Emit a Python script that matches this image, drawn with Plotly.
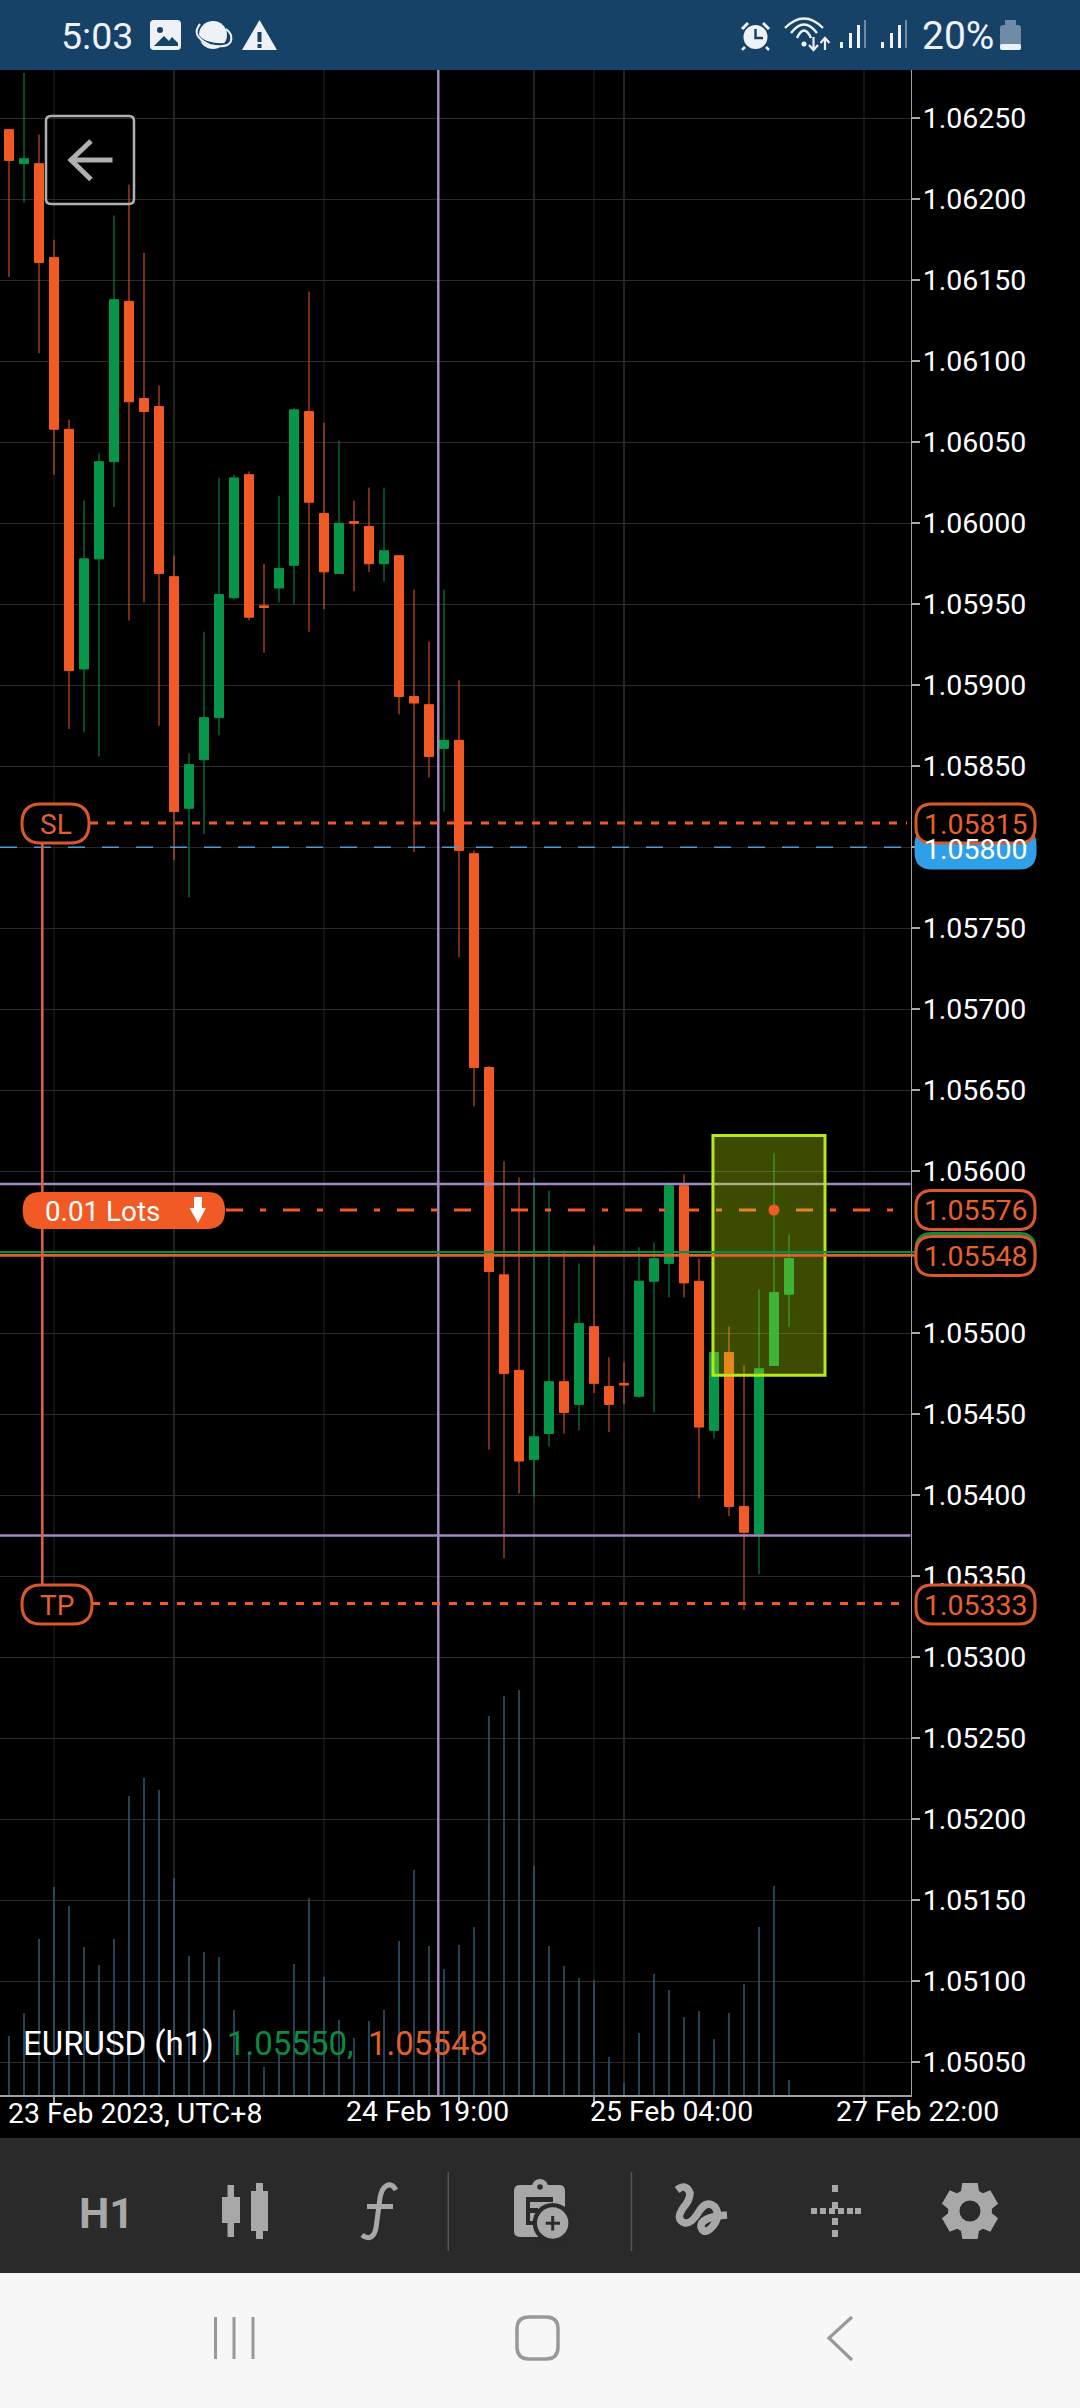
import math
import plotly.graph_objects as go

# ---------- data ----------
candle_index = list(range(53))
open_prices = [1.06243,1.06222,1.06222,1.06164,1.06058,1.05910,1.05978,1.06038,1.06137,1.06077,
               1.06072,1.05967,1.05824,1.05854,1.05880,1.05954,1.06030,1.05949,1.05960,1.05974,
               1.06069,1.06006,1.05969,1.06001,1.05998,1.05975,1.05980,1.05893,1.05888,1.05861,
               1.05866,1.05796,1.05664,1.05536,1.05477,1.05422,1.05438,1.05470,1.05456,1.05504,
               1.05467,1.05469,1.05461,1.05532,1.05543,1.05591,1.05532,1.05440,1.05488,1.05393,
               1.05376,1.05480,1.05524]
high_prices = [1.06243,1.06278,1.06240,1.06175,1.06064,1.06014,1.06043,1.06190,1.06209,1.06167,
               1.06085,1.05980,1.05858,1.05933,1.06028,1.06030,1.06032,1.05975,1.06017,1.06071,
               1.06143,1.06062,1.06051,1.06014,1.06022,1.06022,1.05980,1.05959,1.05927,1.05959,
               1.05903,1.05798,1.05665,1.05606,1.05596,1.05596,1.05588,1.05551,1.05543,1.05554,
               1.05485,1.05482,1.05553,1.05556,1.05593,1.05598,1.05546,1.05488,1.05504,1.05480,
               1.05527,1.05611,1.05561]
low_prices = [1.06152,1.06198,1.06105,1.06030,1.05873,1.05871,1.05856,1.06010,1.05940,1.05951,
              1.05875,1.05792,1.05769,1.05808,1.05869,1.05953,1.05940,1.05920,1.05951,1.05950,
              1.05933,1.05947,1.05969,1.05958,1.05970,1.05964,1.05882,1.05797,1.05843,1.05822,
              1.05732,1.05640,1.05428,1.05361,1.05401,1.05399,1.05430,1.05438,1.05440,1.05463,
              1.05439,1.05456,1.05460,1.05451,1.05522,1.05522,1.05398,1.05435,1.05387,1.05329,
              1.05351,1.05480,1.05504]
close_prices = [1.06224,1.06225,1.06161,1.06058,1.05909,1.05978,1.06038,1.06138,1.06075,1.06069,
                1.05969,1.05822,1.05851,1.05880,1.05956,1.06028,1.05942,1.05948,1.05972,1.06070,
                1.06013,1.05970,1.06000,1.06000,1.05975,1.05983,1.05893,1.05889,1.05856,1.05866,
                1.05798,1.05664,1.05538,1.05475,1.05421,1.05436,1.05470,1.05451,1.05506,1.05469,
                1.05456,1.05468,1.05532,1.05546,1.05591,1.05531,1.05442,1.05488,1.05393,1.05377,
                1.05478,1.05525,1.05546]
tick_volume = [59,82,156,208,189,148,130,156,299,317,305,217,139,143,138,85,42,28,43,131,197,118,75,
               57,74,85,154,225,149,126,150,168,379,399,405,229,149,129,117,115,38,12,62,121,105,78,
               84,56,82,111,168,209,15]

ask_price = 1.05550
bid_price = 1.05548
entry_price = 1.05576
stop_loss = 1.05815
take_profit = 1.05333
level_price = 1.05800
range_high = 1.05592
range_low = 1.05375
box_top, box_bottom = 1.05622, 1.05474
box_left, box_right = 46.93, 54.4
entry_candle = 51
cursor_candle = 28.62
bright_grid = [11, 35, 41]
dim_grid = [3, 21, 39, 57]
x_tick_positions = [3, 30, 39, 57]
time_labels = ["23 Feb 2023, UTC+8", "24 Feb 19:00", "25 Feb 04:00", "27 Feb 22:00"]
symbol_label = "EURUSD (h1)"
lots_label = "0.01 Lots"

# ---------- palette / geometry ----------
W, H = 1080, 2408
ORANGE = "#f15a24"; GREEN = "#05964a"; PURPLE = "#a288c0"; GREY = "#a8a8a8"; NAVY = "#174268"
PILL = "#d9582c"
ICON = "#eef2f6"; TOOLBAR = "#2a2a2a"; NAV = "#f7f7f7"
PLOT_L, PLOT_R, PLOT_T, PLOT_B = 0, 910.5, 70, 2095
XMIN = -0.6
XMAX = XMIN + PLOT_R / 15
YTOP = 1.06250 + (118.3 - PLOT_T) / 161975
YBOT = 1.06250 - (PLOT_B - 118.3) / 161975
FONT = "Roboto"

def px(x): return x / W
def py(y): return 1 - y / H
def pt(x, y): return f"{px(x):.5f},{py(y):.5f}"

shapes, annots = [], []

def path(d, fill=None, line=None, lw=0, layer="above", dash=None):
    s = dict(type="path", path=d, xref="paper", yref="paper", layer=layer,
             line=dict(width=lw, color=line or "rgba(0,0,0,0)"))
    if dash: s["line"]["dash"] = dash
    if fill: s["fillcolor"] = fill
    shapes.append(s)

def poly(pts, close=True):
    d = "M" + " L".join(pt(*p) for p in pts)
    return d + (" Z" if close else "")

def rr(x0, y0, x1, y1, r):
    return (f"M{pt(x0+r,y0)} L{pt(x1-r,y0)} Q{pt(x1,y0)} {pt(x1,y0+r)} L{pt(x1,y1-r)} Q{pt(x1,y1)} {pt(x1-r,y1)} "
            f"L{pt(x0+r,y1)} Q{pt(x0,y1)} {pt(x0,y1-r)} L{pt(x0,y0+r)} Q{pt(x0,y0)} {pt(x0+r,y0)} Z")

def rect(x0, y0, x1, y1, fill, layer="above"):
    shapes.append(dict(type="rect", xref="paper", yref="paper", x0=px(x0), x1=px(x1), y0=py(y0), y1=py(y1),
                       fillcolor=fill, line=dict(width=0), layer=layer))

def circ(cx, cy, r, fill=None, line=None, lw=0):
    s = dict(type="circle", xref="paper", yref="paper", x0=px(cx-r), x1=px(cx+r), y0=py(cy-r), y1=py(cy+r),
             line=dict(width=lw, color=line or "rgba(0,0,0,0)"), layer="above")
    if fill: s["fillcolor"] = fill
    shapes.append(s)

def text(x, y, s, size, color, anchor="left", family=FONT):
    annots.append(dict(x=px(x), y=py(y), xref="paper", yref="paper", text=s, showarrow=False, xanchor=anchor,
                       yanchor="middle", font=dict(family=family, size=size, color=color), align=anchor,
                       borderpad=0, borderwidth=0))

def hline(price, color, lw, x0=PLOT_L, x1=PLOT_R, dash=None):
    ln = dict(color=color, width=lw)
    if dash: ln["dash"] = dash
    shapes.append(dict(type="line", xref="paper", yref="y", x0=px(x0), x1=px(x1), y0=price, y1=price, line=ln, layer="above"))

# ---------- grid verticals ----------
for idx in dim_grid:
    shapes.append(dict(type="line", xref="x", yref="paper", x0=idx, x1=idx, y0=py(PLOT_B), y1=py(PLOT_T),
                       line=dict(color="#242424", width=1), layer="below"))
for idx in bright_grid:
    shapes.append(dict(type="line", xref="x", yref="paper", x0=idx, x1=idx, y0=py(PLOT_B), y1=py(PLOT_T),
                       line=dict(color="#474747", width=1), layer="below"))

# ---------- chart objects ----------
shapes.append(dict(type="line", xref="x", yref="paper", x0=cursor_candle, x1=cursor_candle, y0=py(PLOT_B), y1=py(PLOT_T),
                   line=dict(color=PURPLE, width=2.5), layer="above"))
hline(range_high, PURPLE, 2.5)
hline(range_low, PURPLE, 2.5)
hline(level_price, "#4a9bd8", 1.6, dash="17px,17px")
hline(stop_loss, ORANGE, 3, x0=90, x1=907, dash="8px,9px")
hline(take_profit, ORANGE, 3, x0=92, x1=907, dash="8px,9px")
hline(entry_price, ORANGE, 3, x0=226, x1=907, dash="17px,17px,6px,17px")
shapes.append(dict(type="rect", xref="x", yref="y", x0=box_left, x1=box_right, y0=box_bottom, y1=box_top,
                   fillcolor="rgba(200,247,0,0.30)", line=dict(color="#b8e815", width=3), layer="above"))
shapes.append(dict(type="circle", xref="x", yref="y", xsizemode="pixel", ysizemode="pixel", xanchor=entry_candle,
                   yanchor=entry_price, x0=-5.5, x1=5.5, y0=-5.5, y1=5.5, fillcolor=ORANGE,
                   line=dict(width=0), layer="above"))
hline(ask_price, "#0b8b40", 2.4, x1=918)
hline(bid_price, "#e0602e", 2.6, x1=918)
# stop-to-target connector
rect(41, 843, 43.6, 1586, "#d8603a")

# ---------- pills ----------
def pill(cy, label, stroke=PILL, fill="#000000", txt="#e8602e", x0=916, x1=1035):
    path(rr(x0, cy-19.5, x1, cy+19.5, 16), fill=fill, line=stroke, lw=3)
    if label:
        text((x0+x1)/2, cy+0.5, label, 28.5, txt, "center")

pill(848.5, "1.05800", stroke="#2f9fe8", fill="#2f9fe8", txt="#ffffff")
pill(823.5, "1.05815")
pill(1210, "1.05576")
pill(1253, "", stroke="#0b8b40")
pill(1256, "1.05548")
pill(1604.5, "1.05333")
path(rr(22, 804, 89, 843, 19), fill="#000000", line=PILL, lw=3)
text(55.5, 824, "SL", 28, "#e0602e", "center")
path(rr(22, 1585, 92, 1624, 19), fill="#000000", line=PILL, lw=3)
text(57, 1605, "TP", 28, "#e0602e", "center")
path(rr(22.7, 1192, 225, 1229, 18), fill=ORANGE)
text(45, 1211, lots_label, 27.8, "#ffffff")
path(poly([(194, 1197), (202, 1197), (202, 1208), (206, 1208), (198, 1223), (189.5, 1208), (194, 1208)]), fill="#ffffff")

# symbol read-out
text(23, 2043, symbol_label, 33, "#ffffff")
text(227, 2043, "1.05550,", 33, "#0b8b40")
text(368, 2043, "1.05548", 33, "#e0602e")

# time labels
text(8, 2113, time_labels[0], 28.4, "#ffffff")
text(346, 2111, time_labels[1], 28.4, "#ffffff")
text(590, 2111, time_labels[2], 28.4, "#ffffff")
text(836, 2111, time_labels[3], 28.4, "#ffffff")

# back button
path(rr(46, 116, 134, 204, 5), line="#b0b0b0", lw=2.5)
path(poly([(112.5, 160), (71, 160)], False), line="#b0b0b0", lw=5)
path(poly([(91, 141), (71, 160), (91, 179.5)], False), line="#b0b0b0", lw=5)

# ---------- status bar ----------
rect(0, 0, W, 70, NAVY)
text(61, 36, "5:03", 37.5, ICON)
text(922, 36, "20%", 39, ICON)
path(rr(150, 20, 181, 50, 4), fill=ICON)
path(poly([(154, 46), (164, 36), (169, 41), (172, 37), (178, 43), (178, 46)]), fill=NAVY)
circ(160, 30, 3, fill=NAVY)
circ(213, 35, 14, fill=ICON)
path(f"M{pt(198,27)} Q{pt(193,40)} {pt(213,44)} Q{pt(232,47)} {pt(230,36)}", line=NAVY, lw=3)
path(f"M{pt(200,24)} Q{pt(190,36)} {pt(210,45)} Q{pt(234,50)} {pt(231,35)} Q{pt(229,31)} {pt(226,29)}", line=ICON, lw=2)
path(poly([(259.5, 20), (277, 50), (242, 50)]), fill=ICON)
rect(257.5, 32, 261.5, 42, NAVY); rect(257.5, 44, 261.5, 48, NAVY)
circ(755.5, 37, 12, fill=ICON)
path(poly([(755.5, 29), (755.5, 38), (763, 38)], False), line=NAVY, lw=2.5)
path(poly([(742, 29), (748, 23)], False), line=ICON, lw=3)
path(poly([(769, 29), (763, 23)], False), line=ICON, lw=3)
path(poly([(745, 47), (742, 50)], False), line=ICON, lw=2.5)
path(poly([(766, 47), (769, 50)], False), line=ICON, lw=2.5)
for w_, top_, bot_ in [(19, 19, 28), (13, 26, 33), (7, 33, 38)]:
    path(f"M{pt(804-w_,bot_)} Q{pt(804,top_-10)} {pt(804+w_,bot_)}", line=ICON, lw=2.4)
circ(804, 44, 2.5, fill=ICON)
path(poly([(813.5, 37), (813.5, 50)], False), line=ICON, lw=2.2)
path(poly([(809, 45), (813.5, 50), (818, 45)], False), line=ICON, lw=2.2)
path(poly([(825, 50), (825, 38)], False), line=ICON, lw=2.2)
path(poly([(820.5, 43), (825, 38), (829.5, 43)], False), line=ICON, lw=2.2)
for base in (840, 881):
    rect(base, 42, base+3, 48, ICON); rect(base+9, 33, base+12, 48, ICON)
    rect(base+17, 25, base+20, 48, ICON); rect(base+24, 20, base+26, 48, "#6f8ba5")
path(rr(1000, 25, 1021, 50, 3), fill="#6f8ba5")
rect(1005, 20, 1016, 26, "#6f8ba5")
path(rr(1000, 44, 1021, 50, 2), fill=ICON)

# ---------- toolbar ----------
rect(0, 2138, W, 2273, TOOLBAR)
rect(0, 2273, W, H, NAV)
rect(447.5, 2172, 449, 2251, "#555555"); rect(630.7, 2172, 632.2, 2251, "#555555")
text(106.5, 2213, "<b>H1</b>", 43, GREY, "center")
rect(222, 2197, 240, 2223, GREY); rect(227.5, 2185, 234, 2237, GREY)
rect(251, 2191, 268, 2231, GREY); rect(256, 2183, 263, 2239, GREY)
path(f"M{pt(396,2190)} C{pt(390,2180)} {pt(382,2186)} {pt(380,2198)} L{pt(376,2228)} C{pt(374,2238)} {pt(368,2240)} {pt(362,2235)}",
     line=GREY, lw=5)
rect(367, 2204, 393, 2209, GREY)
# clipboard with plus badge
path(rr(514, 2185, 565, 2237, 6), fill=GREY)
circ(540, 2187, 8, fill=GREY)
circ(540, 2187, 2.8, fill=TOOLBAR)
rect(526, 2197, 553, 2202, TOOLBAR); rect(526, 2208, 538, 2213, TOOLBAR); rect(526, 2221, 535, 2225, TOOLBAR)
rect(526, 2197, 530, 2225, TOOLBAR)
circ(552.7, 2223, 20, fill=TOOLBAR)
circ(552.7, 2223, 15.7, fill=GREY)
rect(545.7, 2221.7, 560, 2224.7, TOOLBAR); rect(551.2, 2216, 554.2, 2230.5, TOOLBAR)
# squiggle
path(f"M{pt(677,2190)} Q{pt(686,2183)} {pt(690,2193)} Q{pt(690,2200)} {pt(683,2208)} Q{pt(675,2220)} {pt(685,2223)} "
     f"Q{pt(692,2224)} {pt(700,2210)} Q{pt(707,2200)} {pt(715,2207)} Q{pt(721,2216)} {pt(713,2226)} Q{pt(704,2236)} {pt(701,2227)} "
     f"Q{pt(700,2217)} {pt(727,2215)}", line=GREY, lw=7.5)
for y0 in (2185, 2202, 2218, 2230):
    rect(832, y0, 838, y0+7, GREY)
for x0 in (811, 820, 829, 838, 847, 855):
    rect(x0, 2208, x0+6, 2214, GREY)

cx, cy = 970, 2211
gear = []
for k in range(6):
    a = math.radians(60 * k - 90)
    for off, rad in ((-0.42, 22), (-0.27, 29), (0.27, 29), (0.42, 22)):
        gear.append((cx + rad * math.cos(a + off), cy + rad * math.sin(a + off)))
path(poly(gear), fill=GREY)
circ(cx, cy, 10.5, fill=TOOLBAR)

# ---------- nav bar ----------
for x in (215.5, 234, 253):
    rect(x-1.5, 2317, x+1.5, 2359, "#999999")
path(rr(517, 2317, 558, 2359, 12), line="#999999", lw=3.5)
path(poly([(852, 2317), (829, 2338), (852, 2360)], False), line="#999999", lw=3.2)

# ---------- figure ----------
fig = go.Figure()
fig.add_trace(go.Bar(x=candle_index, y=tick_volume, width=0.1, yaxis="y2",
                     marker=dict(color="#2f5a70", line=dict(width=0)), hoverinfo="skip"))
fig.add_trace(go.Candlestick(x=candle_index, open=open_prices, high=high_prices, low=low_prices, close=close_prices,
                             whiskerwidth=0,
                             increasing=dict(line=dict(color=GREEN, width=1), fillcolor=GREEN),
                             decreasing=dict(line=dict(color=ORANGE, width=1), fillcolor=ORANGE),
                             hoverinfo="skip"))

fig.update_layout(
    width=W, height=H, margin=dict(l=0, r=0, t=0, b=0, pad=0), paper_bgcolor="#000000", plot_bgcolor="#000000",
    showlegend=False, boxgap=0.4, boxgroupgap=0, font=dict(family=FONT, color="#ffffff"),
    shapes=shapes, annotations=annots,
    xaxis=dict(domain=[0, PLOT_R / W], range=[XMIN, XMAX], showgrid=False, zeroline=False, rangeslider=dict(visible=False),
               tickmode="array", tickvals=x_tick_positions, showticklabels=False, ticks="outside", ticklen=8, tickwidth=1.5,
               tickcolor="#a0a0a0", showline=True, linecolor="#a0a0a0", linewidth=1.5, anchor="y"),
    yaxis=dict(domain=[py(PLOT_B), py(PLOT_T)], range=[YBOT, YTOP], side="right", dtick=0.0005, tick0=1.05,
               tickformat=".5f", showgrid=True, gridcolor="#2a2a2a", gridwidth=1, zeroline=False,
               ticks="outside", ticklen=8, tickwidth=2, tickcolor="#a8a8a8", showline=True, linecolor="#a0a0a0", linewidth=1.5,
               tickfont=dict(family=FONT, size=28.5, color="#ffffff"), ticklabelstandoff=-3, automargin=False),
    yaxis2=dict(domain=[py(PLOT_B), py(PLOT_T)], range=[0, PLOT_B - PLOT_T], overlaying="y", visible=False, side="left"),
)
fig.write_html("out.html", config=dict(displayModeBar=False, staticPlot=True),
               post_script="document.body.style.margin='0';document.documentElement.style.overflow='hidden';")
